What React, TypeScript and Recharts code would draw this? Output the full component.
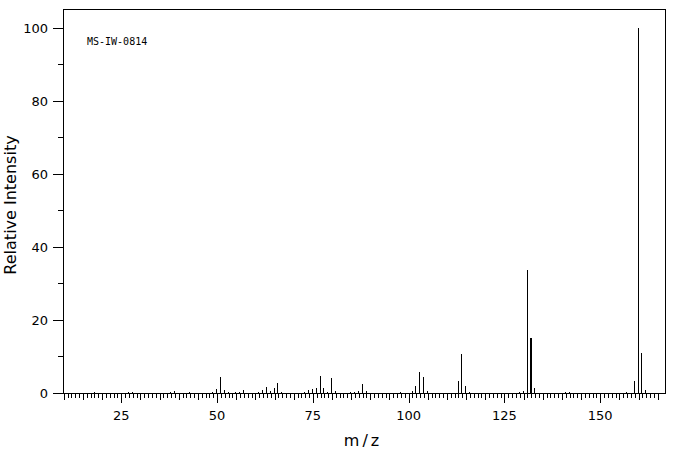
import { BarChart, Bar, XAxis, YAxis, ReferenceArea } from "recharts";

// peaks (m/z, relative intensity %)
const MZ = [
  18, 27, 28, 38, 39, 43, 49, 50, 51, 52, 53, 55, 56, 57, 61, 62, 63, 64, 65, 66, 67,
  73, 74, 75, 76, 77, 78, 79, 80, 81, 85, 86, 87, 88, 89, 98, 101, 102, 103, 104, 105,
  113, 114, 115, 116, 129, 130, 131, 132, 133, 141, 142, 157, 159, 160, 161, 162,
];
const INTENSITY = [
  0.4, 0.4, 0.4, 0.3, 0.6, 0.3, 0.3, 1.2, 4.5, 0.9, 0.3, 0.3, 0.3, 0.9, 0.3, 0.9, 1.7, 0.6, 1.5, 2.8, 0.3,
  0.3, 0.9, 1.1, 1.5, 4.7, 1.5, 0.3, 4.2, 0.6, 0.3, 0.3, 0.6, 2.5, 0.6, 0.3, 0.5, 1.9, 5.8, 4.4, 0.5,
  3.3, 10.7, 1.9, 0.3, 0.3, 0.5, 33.6, 15.1, 1.4, 0.3, 0.3, 0.3, 3.3, 100, 11.0, 0.8,
];
const THICK_PEAKS = [132];

const X_DOMAIN: [number, number] = [9.8, 166.9];
const Y_DOMAIN: [number, number] = [0, 105.2];
// one tick per m/z unit, longer every 5, labelled every 25
const X_TICKS = Array.from({ length: 156 }, (_, i) => 10 + i);
const Y_TICKS = [0, 10, 20, 30, 40, 50, 60, 70, 80, 90, 100];

const SPECTRUM_ID = "MS-IW-0814";

const data = MZ.map((mz, i) => ({ mz, intensity: INTENSITY[i] }));

const FONT = "DejaVu Sans";

function Stick(props: any) {
  const { x = 0, y = 0, width = 0, height = 0, payload } = props;
  const w = THICK_PEAKS.includes(payload?.mz) ? 2 : 1;
  const cx = Math.round(x + width / 2 - 0.5);
  return (
    <rect x={cx} y={y} width={w} height={height} fill="#000" shapeRendering="crispEdges" />
  );
}

function XTick({ x, y, payload }: any) {
  const v = payload.value as number;
  const len = v % 25 === 0 ? 10 : v % 5 === 0 ? 7 : 5;
  const px = Math.round(x) + 0.5;
  return (
    <g>
      <line x1={px} x2={px} y1={y} y2={y + len} stroke="#000" shapeRendering="crispEdges" />
      {v % 25 === 0 && (
        <text x={x} y={y + 27} textAnchor="middle" fontFamily={FONT} fontSize={13} fill="#000">
          {v}
        </text>
      )}
    </g>
  );
}

function YTick({ x, y, payload }: any) {
  const v = payload.value as number;
  const major = v % 20 === 0;
  const py = Math.round(y) + 0.5;
  return (
    <g>
      <line x1={x - (major ? 10 : 5)} x2={x} y1={py} y2={py} stroke="#000" shapeRendering="crispEdges" />
      {major && (
        <text x={x - 15} y={y} dy="0.36em" textAnchor="end" fontFamily={FONT} fontSize={13} fill="#000">
          {v}
        </text>
      )}
    </g>
  );
}

export default function App() {
  return (
    <div style={{ position: "absolute", left: 0, top: 0, width: 676, height: 455, background: "#fff" }}>
      <BarChart
        width={676}
        height={455}
        data={data}
        margin={{ top: 9, right: 11, left: 0, bottom: 0 }}
      >
        <XAxis
          dataKey="mz"
          type="number"
          domain={X_DOMAIN}
          allowDataOverflow
          ticks={X_TICKS}
          interval={0}
          tick={<XTick />}
          tickLine={false}
          tickSize={0}
          tickMargin={0}
          axisLine={false}
          height={62}
          label={{
            content: () => (
              <text x={363} y={446} textAnchor="middle" fontFamily={FONT} fontSize={16} letterSpacing={3} fill="#000">
                m/z
              </text>
            ),
          }}
        />
        <YAxis
          type="number"
          domain={Y_DOMAIN}
          allowDataOverflow
          ticks={Y_TICKS}
          interval={0}
          tick={<YTick />}
          tickLine={false}
          tickSize={0}
          tickMargin={0}
          axisLine={false}
          width={63}
          label={{
            content: () => (
              <text
                x={16}
                y={205}
                transform="rotate(-90 16 205)"
                textAnchor="middle"
                fontFamily={FONT}
                fontSize={16}
                fill="#000"
              >
                Relative Intensity
              </text>
            ),
          }}
        />
        <ReferenceArea
          x1={X_DOMAIN[0]}
          x2={X_DOMAIN[1]}
          y1={Y_DOMAIN[0]}
          y2={Y_DOMAIN[1]}
          fill="none"
          stroke="#000"
          strokeWidth={1}
          shapeRendering="crispEdges"
          label={{
            content: (p: any) => {
              const vb = p.viewBox ?? { x: 63, y: 9 };
              return (
                <text x={vb.x + 24} y={vb.y + 36} fontFamily="DejaVu Sans Mono" fontSize={10} fill="#000">
                  {SPECTRUM_ID}
                </text>
              );
            },
          }}
        />
        <Bar dataKey="intensity" barSize={1} isAnimationActive={false} shape={<Stick />} />
      </BarChart>
    </div>
  );
}
